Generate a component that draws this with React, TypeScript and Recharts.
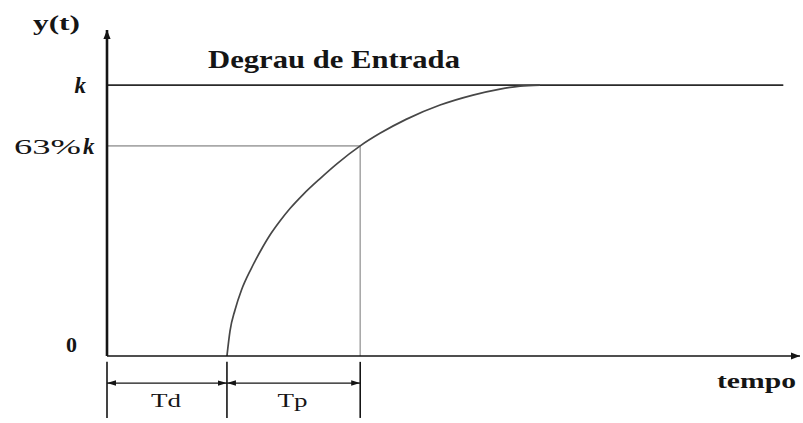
import React from 'react';
import { LineChart, Line, XAxis, YAxis, ReferenceLine } from 'recharts';

// Step input level and the 63% marker, in units of k
const K = 1;
const LEVEL_63 = 0.63;

// Dead time (Td) and time constant (Tp), in time units
const TD = 0.9;
const TP = 1.0;
const TIME_MAX = 5.2;
const STEP_END = 5.07;

// First-order response after the dead time
const responseTime = [
  0.9, 0.9229, 0.9605, 1.0092, 1.0805, 1.1518, 1.223, 1.298, 1.373, 1.471, 1.599, 1.727, 1.9,
  2.048, 2.244, 2.499, 2.746, 2.949, 3.099, 3.249,
];
const responseValue = [
  0, 0.0131, 0.0398, 0.0767, 0.1267, 0.1784, 0.2308, 0.2817, 0.3309, 0.3902, 0.4633, 0.5369,
  0.63, 0.6999, 0.7818, 0.8699, 0.9339, 0.9733, 0.9933, 1.0,
];

// Step input ("Degrau de Entrada")
const stepTime = [0, STEP_END];
const stepValue = [K, K];

// Y tick values and the time marks under the axis
const yTicks = [0, LEVEL_63, K];
const timeMarks = [0, TD, TD + TP];
const intervalLabels = ['Td', 'Tp'];

// Dimension lines below the time axis (units of the hidden linear axis)
const DIM_TICK_TOP = -0.018;
const DIM_TICK_BOTTOM = -0.19;
const DIM_ARROW = -0.083;

const responseData = responseTime.map((t, i) => ({ t, y: responseValue[i] }));
const stepData = stepTime.map((t, i) => ({ t, y: stepValue[i] }));

const SERIF = '"Liberation Serif", "Times New Roman", serif';
const INK = '#151515';

// Power scale (d3-style interface) used for the response axis
function powScale(exponent: number) {
  let dom: number[] = [0, 1];
  let rng: number[] = [0, 1];
  const raise = (v: number) => (v < 0 ? -Math.pow(-v, exponent) : Math.pow(v, exponent));
  const lower = (v: number) => (v < 0 ? -Math.pow(-v, 1 / exponent) : Math.pow(v, 1 / exponent));
  const scale: any = (v: number) => {
    const a = raise(dom[0]);
    const b = raise(dom[dom.length - 1]);
    const t = (raise(Number(v)) - a) / (b - a);
    return rng[0] + t * (rng[rng.length - 1] - rng[0]);
  };
  scale.domain = (...args: any[]) => {
    if (!args.length) return dom.slice();
    dom = Array.from(args[0], Number);
    return scale;
  };
  scale.range = (...args: any[]) => {
    if (!args.length) return rng.slice();
    rng = Array.from(args[0], Number);
    return scale;
  };
  scale.invert = (px: number) => {
    const a = raise(dom[0]);
    const b = raise(dom[dom.length - 1]);
    const t = (px - rng[0]) / (rng[rng.length - 1] - rng[0]);
    return lower(a + t * (b - a));
  };
  scale.ticks = (count = 5) => {
    const lo = dom[0];
    const hi = dom[dom.length - 1];
    const out: number[] = [];
    for (let i = 0; i <= count; i++) out.push(lo + ((hi - lo) * i) / count);
    return out;
  };
  scale.tickFormat = () => (v: number) => String(v);
  scale.nice = () => scale;
  scale.clamp = () => scale;
  scale.copy = () => powScale(exponent).domain(dom).range(rng);
  return scale;
}

const yScale = powScale(0.55);

const YTick = (props: any) => {
  const { x, y, payload } = props;
  const v = payload.value;
  if (v === 0) {
    return (
      <text x={x - 30} y={y - 4} textAnchor="end" fontFamily={SERIF} fontWeight="bold" fontSize={22} fill={INK} textLength={11} lengthAdjust="spacingAndGlyphs">
        0
      </text>
    );
  }
  if (v === K) {
    return (
      <text x={x - 21} y={y + 8} textAnchor="end" fontFamily={SERIF} fontWeight="bold" fontStyle="italic" fontSize={23} fill={INK}>
        k
      </text>
    );
  }
  return (
    <text y={y + 8} fontFamily={SERIF} fontSize={22} fill={INK}>
      <tspan x={x - 93} textLength={67} lengthAdjust="spacingAndGlyphs">63%</tspan>
      <tspan x={x - 24} fontWeight="bold" fontStyle="italic" fontSize={23}>k</tspan>
    </text>
  );
};

export default function App() {
  return (
    <div style={{ position: 'absolute', left: 0, top: 0, background: '#fff' }}>
      <LineChart width={803} height={423} margin={{ top: 30, right: 3, bottom: 0, left: 27 }}>
        <defs>
          <marker id="axisArrow" viewBox="0 0 10 8" refX="10" refY="4" markerWidth="9" markerHeight="7.2" markerUnits="userSpaceOnUse" orient="auto-start-reverse">
            <path d="M0,0 L10,4 L0,8 z" fill={INK} />
          </marker>
          <marker id="dimArrow" viewBox="0 0 10 6" refX="10" refY="3" markerWidth="9" markerHeight="5.4" markerUnits="userSpaceOnUse" orient="auto-start-reverse">
            <path d="M0,0 L10,3 L0,6 z" fill={INK} />
          </marker>
        </defs>

        <XAxis
          dataKey="t"
          type="number"
          domain={[0, TIME_MAX]}
          allowDataOverflow
          height={67}
          tick={false}
          tickLine={false}
          axisLine={{ stroke: INK, strokeWidth: 1.6, markerEnd: 'url(#axisArrow)' }}
          label={(p: any) => {
            const vb = p.viewBox;
            return (
              <text x={vb.x + vb.width - 4} y={vb.y + 32} textAnchor="end" fontFamily={SERIF} fontWeight="bold" fontSize={22} fill={INK} textLength={79} lengthAdjust="spacingAndGlyphs">
                tempo
              </text>
            );
          }}
        />
        <YAxis
          yAxisId="main"
          type="number"
          scale={yScale}
          domain={[0, 1.4]}
          allowDataOverflow
          ticks={yTicks}
          width={80}
          tickSize={0}
          tickMargin={0}
          tickLine={false}
          tick={<YTick />}
          axisLine={{ stroke: INK, strokeWidth: 2.6, markerStart: 'url(#axisArrow)' }}
          label={(p: any) => {
            const vb = p.viewBox;
            return (
              <text x={vb.x + 6} y={vb.y} fontFamily={SERIF} fontWeight="bold" fontSize={21} fill={INK} textLength={47} lengthAdjust="spacingAndGlyphs">
                y(t)
              </text>
            );
          }}
        />
        <YAxis yAxisId="dim" orientation="right" type="number" domain={[0, 1]} allowDataOverflow hide />

        {/* 63% level and the time it is reached */}
        <ReferenceLine
          yAxisId="main"
          segment={[{ x: 0, y: LEVEL_63 }, { x: TD + TP, y: LEVEL_63 }]}
          stroke="#a9a9a9"
          strokeWidth={1.6}
        />
        <ReferenceLine
          yAxisId="main"
          segment={[{ x: TD + TP, y: 0 }, { x: TD + TP, y: LEVEL_63 }]}
          stroke="#a9a9a9"
          strokeWidth={1.6}
        />

        <Line
          yAxisId="main"
          data={stepData}
          dataKey="y"
          stroke="#2a2a2a"
          strokeWidth={1.7}
          strokeLinecap="round"
          dot={false}
          isAnimationActive={false}
          label={(p: any) =>
            p.index === 0 ? (
              <text key="step-label" x={p.x + 101} y={p.y - 17} fontFamily={SERIF} fontWeight="bold" fontSize={25} fill={INK} textLength={252} lengthAdjust="spacingAndGlyphs">
                Degrau de Entrada
              </text>
            ) : (
              <g key={`empty-${p.index}`} />
            )
          }
        />
        <Line
          yAxisId="main"
          data={responseData}
          dataKey="y"
          type="monotone"
          stroke="#474747"
          strokeWidth={1.7}
          dot={false}
          isAnimationActive={false}
        />

        {/* Time marks below the axis */}
        {timeMarks.map((m) => (
          <ReferenceLine
            key={`mark-${m}`}
            yAxisId="dim"
            segment={[{ x: m, y: DIM_TICK_TOP }, { x: m, y: DIM_TICK_BOTTOM }]}
            stroke={INK}
            strokeWidth={1.6}
            ifOverflow="visible"
          />
        ))}
        {intervalLabels.map((name, i) => (
          <ReferenceLine
            key={`dim-${name}`}
            yAxisId="dim"
            segment={[{ x: timeMarks[i], y: DIM_ARROW }, { x: timeMarks[i + 1], y: DIM_ARROW }]}
            stroke={INK}
            strokeWidth={1.2}
            markerStart="url(#dimArrow)"
            markerEnd="url(#dimArrow)"
            ifOverflow="visible"
            label={(p: any) => {
              const vb = p.viewBox;
              return (
                <text x={vb.x + vb.width / 2 - 1} y={vb.y + 24} textAnchor="middle" fontFamily={SERIF} fontSize={19} fill={INK} textLength={30} lengthAdjust="spacingAndGlyphs">
                  {name}
                </text>
              );
            }}
          />
        ))}
      </LineChart>
    </div>
  );
}
